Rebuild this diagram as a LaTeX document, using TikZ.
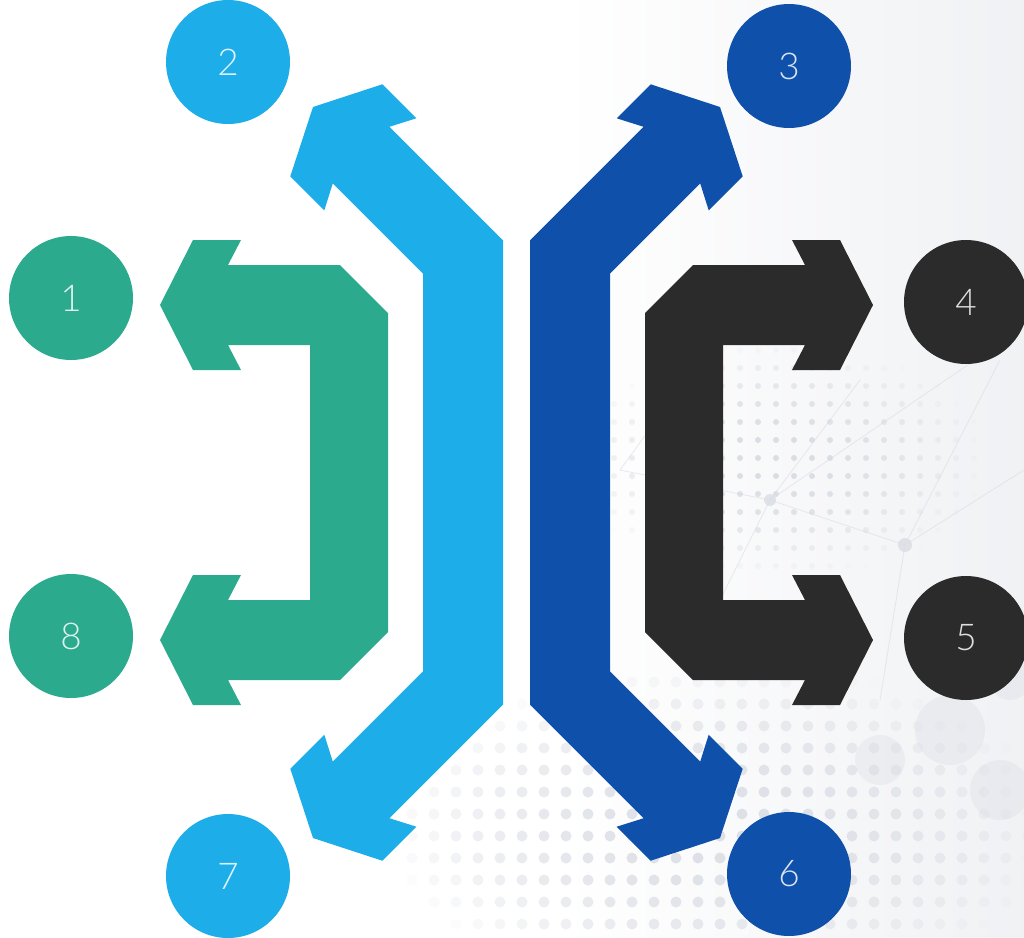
\documentclass[tikz,border=0pt]{standalone}
\usepackage{fontspec}
\newfontfamily\numfont{Lato Light}
\definecolor{cgreen}{RGB}{43,170,142}
\definecolor{clight}{RGB}{29,173,233}
\definecolor{cdark}{RGB}{15,80,170}
\definecolor{cblack}{RGB}{43,43,43}
\definecolor{bgdot}{RGB}{218,221,228}
\definecolor{bgline}{RGB}{215,219,226}
\tikzset{
  numcircle/.style={circle, minimum size=2.48cm, inner sep=0pt, text=white, text opacity=0.85, font=\numfont\fontsize{21}{21}\selectfont}
}
\begin{document}
\begin{tikzpicture}[x=0.02cm,y=-0.02cm]
\useasboundingbox (0,0) rectangle (1024,937);
% background
\fill[white] (0,0) rectangle (1024,937);
\shade[left color=white, right color=bgdot!40] (560,0) rectangle (1024,937);
% faint dot fields, fading towards their edges
\foreach \i in {0,...,24}{\foreach \j in {0,...,14}{
  \pgfmathsetmacro{\dx}{(560+18*\i-780)/210}
  \pgfmathsetmacro{\dy}{(350+18*\j-460)/120}
  \pgfmathsetmacro{\op}{max(0,1-\dx*\dx-\dy*\dy)}
  \fill[bgdot, opacity=\op] (560+18*\i,350+18*\j) circle (3);}}
\foreach \i in {0,...,30}{\foreach \j in {0,...,14}{
  \pgfmathsetmacro{\dx}{(390+22*\i-720)/340}
  \pgfmathsetmacro{\dy}{(660+22*\j-830)/170}
  \pgfmathsetmacro{\op}{0.9*max(0,1-\dx*\dx-\dy*\dy)}
  \fill[bgdot, opacity=\op] (390+22*\i,660+22*\j) circle (5.5);}}
% faint network lines
\begin{scope}[bgline, line width=0.5pt, opacity=0.55]
\draw (620,470) -- (770,500) -- (905,545) -- (1024,470);
\draw (770,500) -- (975,360) (770,500) -- (700,640) (905,545) -- (880,700)
      (905,545) -- (1000,360) (620,470) -- (700,360) (770,500) -- (860,380);
\end{scope}
\fill[bgdot, opacity=0.8] (770,500) circle (6) (905,545) circle (7);
\fill[bgdot, opacity=0.35] (950,730) circle (35) (1000,790) circle (30) (880,760) circle (25) (1010,680) circle (20);

% green arrow (1 and 8)
\fill[cgreen] (228,265) -- (241,240) -- (193,240) -- (160,305) -- (193,370) -- (241,370) -- (228,345)
  -- (310,345) -- (310,600) -- (228,600) -- (241,575) -- (193,575) -- (160,640) -- (193,705)
  -- (241,705) -- (228,680) -- (340,680) -- (388,632) -- (388,313) -- (340,265) -- cycle;
% black arrow (4 and 5)
\fill[cblack] (805,265) -- (792,240) -- (840,240) -- (873,305) -- (840,370) -- (792,370) -- (805,345)
  -- (723,345) -- (723,600) -- (805,600) -- (792,575) -- (840,575) -- (873,640) -- (840,705)
  -- (792,705) -- (805,680) -- (693,680) -- (645,632) -- (645,313) -- (693,265) -- cycle;
% light blue arrow (2 and 7)
\fill[clight] (503,240.4) -- (389.4,126.8) -- (416.3,118.3) -- (382.3,84.3) -- (313,107) -- (290.3,176.3)
  -- (324.3,210.3) -- (332.8,183.4) -- (423,273.6) -- (423,671.4) -- (332.8,761.6) -- (324.3,734.7)
  -- (290.3,768.7) -- (313,838) -- (382.3,860.7) -- (416.3,826.7) -- (389.4,818.2) -- (503,704.6) -- cycle;
% dark blue arrow (3 and 6)
\fill[cdark] (530,240.4) -- (643.6,126.8) -- (616.7,118.3) -- (650.7,84.3) -- (720,107) -- (742.7,176.3)
  -- (708.7,210.3) -- (700.2,183.4) -- (610,273.6) -- (610,671.4) -- (700.2,761.6) -- (708.7,734.7)
  -- (742.7,768.7) -- (720,838) -- (650.7,860.7) -- (616.7,826.7) -- (643.6,818.2) -- (530,704.6) -- cycle;

% numbered circles
\node[numcircle, fill=cgreen] (n1) at (71,298) {1};
\node[numcircle, fill=clight] (n2) at (228,62) {2};
\node[numcircle, fill=cdark] (n3) at (789,66) {3};
\node[numcircle, fill=cblack] (n4) at (966,302) {4};
\node[numcircle, fill=cblack] (n5) at (966,638) {5};
\node[numcircle, fill=cdark] (n6) at (789,874) {6};
\node[numcircle, fill=clight] (n7) at (228,876) {7};
\node[numcircle, fill=cgreen] (n8) at (71,636) {8};
\end{tikzpicture}
\end{document}
